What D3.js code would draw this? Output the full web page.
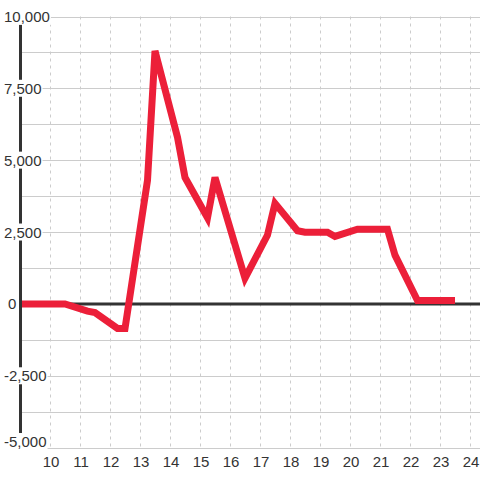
<!DOCTYPE html>
<html><head><meta charset="utf-8">
<script src="https://cdn.jsdelivr.net/npm/d3@7"></script>
<style>body{margin:0;background:#fff}svg{display:block}</style>
</head><body>
<svg id="c" width="480" height="480"></svg>
<script>
const xValues = [9, 9.5, 10, 10.5, 11.25, 11.5, 12.25, 12.5, 13.25, 13.5, 14.25, 14.5, 15.25, 15.5, 16.5, 17.25, 17.5, 18.25, 18.5, 19.25, 19.5, 20.25, 20.5, 21.25, 21.5, 22.25, 22.5, 23.5];
const yValues = [0, 0, 0, 0, -250, -300, -850, -850, 4300, 8800, 5800, 4400, 3000, 4400, 900, 2400, 3500, 2550, 2500, 2500, 2350, 2600, 2600, 2600, 1700, 120, 120, 120];
const xTicks = [10, 11, 12, 13, 14, 15, 16, 17, 18, 19, 20, 21, 22, 23, 24];
const yLabelTicks = [-5000, -2500, 0, 2500, 5000, 7500, 10000];
const yGridTicks = [-5000, -3750, -2500, -1250, 0, 1250, 2500, 3750, 5000, 6250, 7500, 8750, 10000];

const svg = d3.select("#c");
const x = d3.scaleLinear().domain([9, 24]).range([20, 470]);
const y = d3.scaleLinear().domain([-5000, 10000]).range([447.75, 16.5]);
const font = "'Liberation Sans', Arial, sans-serif";

// horizontal grid
svg.append("g").selectAll("line").data(yGridTicks.filter(d => d !== 0)).join("line")
  .attr("x1", 20).attr("x2", 480)
  .attr("y1", d => Math.round(y(d)) + 0.5).attr("y2", d => Math.round(y(d)) + 0.5)
  .attr("stroke", "#cccccc").attr("stroke-width", 1);

// vertical dashed grid
svg.append("g").selectAll("line").data(xTicks).join("line")
  .attr("x1", d => x(d) + 0.5).attr("x2", d => x(d) + 0.5)
  .attr("y1", y(10000)).attr("y2", y(-5000))
  .attr("stroke", "#cccccc").attr("stroke-width", 1).attr("stroke-dasharray", "3,4");

// zero line
svg.append("line").attr("x1", 20).attr("x2", 480)
  .attr("y1", y(0)).attr("y2", y(0))
  .attr("stroke", "#333333").attr("stroke-width", 3);

// data line
const line = d3.line().x((d, i) => x(xValues[i])).y(d => y(d));
svg.append("path").datum(yValues).attr("d", line)
  .attr("fill", "none").attr("stroke", "#ec1f39").attr("stroke-width", 7)
  .attr("stroke-linejoin", "miter");

// y axis line
svg.append("line").attr("x1", 20.5).attr("x2", 20.5)
  .attr("y1", y(10000)).attr("y2", y(-5000))
  .attr("stroke", "#333333").attr("stroke-width", 3);

// y labels with white background
const yl = svg.append("g").selectAll("g").data(yLabelTicks).join("g");
yl.append("text")
  .attr("x", d => d === 0 ? 8 : 4)
  .attr("y", d => d === -5000 ? y(d) : y(d))
  .attr("dy", d => d === -5000 ? "-0.05em" : "0.36em")
  .attr("font-family", font).attr("font-size", 15).attr("fill", "#333333")
  .text(d => d3.format(",")(d).replace("−", "-"));
yl.each(function() {
  const g = d3.select(this);
  const b = g.select("text").node().getBBox();
  g.insert("rect", "text").attr("x", b.x - 1).attr("y", b.y).attr("width", b.width + 2).attr("height", b.height).attr("fill", "#ffffff");
});

// x labels
svg.append("g").selectAll("text").data(xTicks).join("text")
  .attr("x", d => x(d) + 1).attr("y", 467)
  .attr("text-anchor", "middle")
  .attr("font-family", font).attr("font-size", 15).attr("fill", "#333333")
  .text(d => d);
</script>
</body></html>
